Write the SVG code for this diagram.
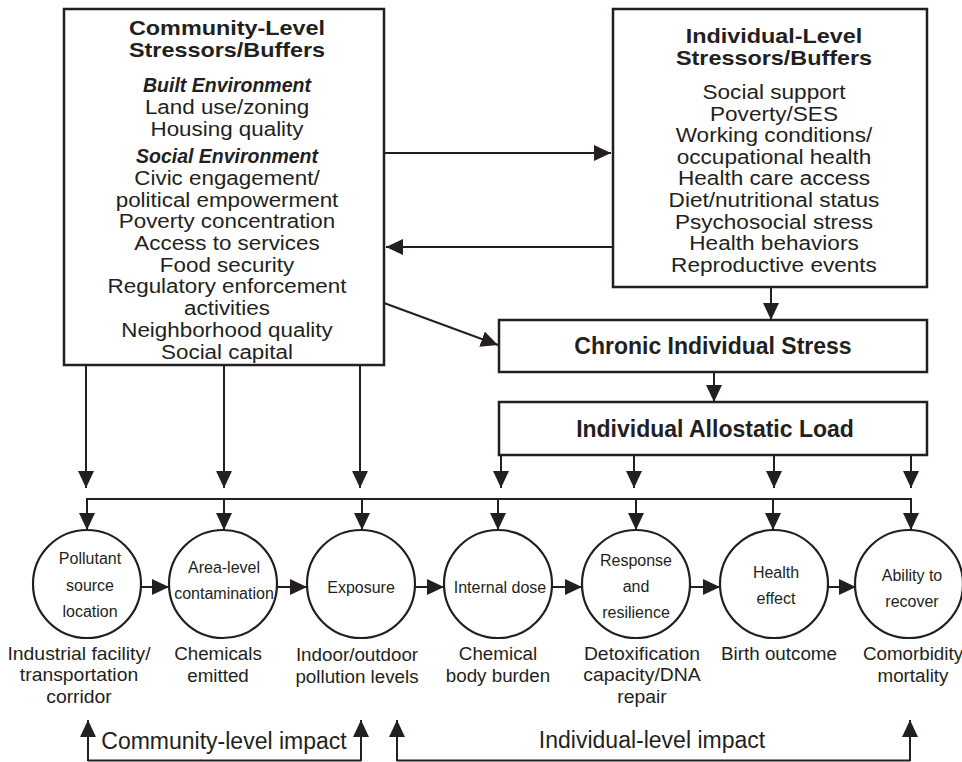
<svg xmlns="http://www.w3.org/2000/svg" width="962" height="762" viewBox="0 0 962 762">
<defs>
<marker id="ah" markerUnits="userSpaceOnUse" markerWidth="17" markerHeight="16" refX="17" refY="8" orient="auto">
<path d="M0,0 L17,8 L0,16 z" fill="#231f20"/>
</marker>
<style>
text{font-family:"Liberation Sans",Arial,sans-serif;fill:#231f20;text-anchor:middle}
.t{font-size:19.5px;font-weight:bold}
.tc{font-size:23px;font-weight:bold}
.b{font-size:19.3px}
.bi{font-size:19.5px;font-weight:bold;font-style:italic}
.c{font-size:16px}
.l{font-size:18.8px}
.i{font-size:23px}
.box{fill:#fff;stroke:#231f20;stroke-width:2.5}
.circ{fill:#fff;stroke:#231f20;stroke-width:2.2}
.ln{fill:none;stroke:#231f20;stroke-width:2}
.ar{fill:none;stroke:#231f20;stroke-width:2;marker-end:url(#ah)}
</style>
</defs>
<rect width="962" height="762" fill="#fff"/>

<g id="connectors">
<line class="ar" x1="384" y1="153" x2="611" y2="153"/>
<line class="ar" x1="612" y1="247" x2="386" y2="247"/>
<line class="ar" x1="384" y1="303" x2="498" y2="345"/>
<line class="ar" x1="771" y1="287" x2="771" y2="320"/>
<line class="ar" x1="714" y1="372" x2="714" y2="402"/>
<line class="ar" x1="86" y1="365" x2="86" y2="488"/>
<line class="ar" x1="224" y1="365" x2="224" y2="488"/>
<line class="ar" x1="360" y1="365" x2="360" y2="488"/>
<line class="ar" x1="501" y1="455" x2="501" y2="488"/>
<line class="ar" x1="634" y1="455" x2="634" y2="488"/>
<line class="ar" x1="774" y1="455" x2="774" y2="488"/>
<line class="ar" x1="911" y1="455" x2="911" y2="488"/>
<line class="ln" x1="86" y1="499" x2="912" y2="499"/>
<line class="ar" x1="87" y1="498" x2="87" y2="530"/>
<line class="ar" x1="224" y1="498" x2="224" y2="530"/>
<line class="ar" x1="362" y1="498" x2="362" y2="530"/>
<line class="ar" x1="498" y1="498" x2="498" y2="530"/>
<line class="ar" x1="636" y1="498" x2="636" y2="530"/>
<line class="ar" x1="773" y1="498" x2="773" y2="530"/>
<line class="ar" x1="911" y1="498" x2="911" y2="530"/>
<line class="ar" x1="141" y1="587" x2="169" y2="587"/>
<line class="ar" x1="277" y1="587" x2="307" y2="587"/>
<line class="ar" x1="416" y1="587" x2="444" y2="587"/>
<line class="ar" x1="552" y1="587" x2="582" y2="587"/>
<line class="ar" x1="690" y1="587" x2="720" y2="587"/>
<line class="ar" x1="828" y1="587" x2="856" y2="587"/>
<polyline class="ln" points="88,760.5 361,760.5"/>
<line class="ar" x1="88" y1="761" x2="88" y2="720"/>
<line class="ar" x1="361" y1="761" x2="361" y2="720"/>
<polyline class="ln" points="397,760.5 910,760.5"/>
<line class="ar" x1="397" y1="761" x2="397" y2="720"/>
<line class="ar" x1="910" y1="761" x2="910" y2="720"/>
</g>

<g id="community">
<rect class="box" x="64" y="9" width="320" height="356"/>
<g transform="translate(227,0) scale(1.2,1)">
<text class="t" x="0" y="35">Community-Level</text>
<text class="t" x="0" y="57">Stressors/Buffers</text>
</g>
<text class="bi" x="227" y="92">Built Environment</text>
<text class="bi" x="227" y="163">Social Environment</text>
<g transform="translate(227,0) scale(1.16,1)">
<text class="b" x="0" y="114.5">Land use/zoning</text>
<text class="b" x="0" y="136">Housing quality</text>
<text class="b" x="0" y="185">Civic engagement/</text>
<text class="b" x="0" y="206.7">political empowerment</text>
<text class="b" x="0" y="228.4">Poverty concentration</text>
<text class="b" x="0" y="250.1">Access to services</text>
<text class="b" x="0" y="271.8">Food security</text>
<text class="b" x="0" y="293.5">Regulatory enforcement</text>
<text class="b" x="0" y="315.2">activities</text>
<text class="b" x="0" y="336.9">Neighborhood quality</text>
<text class="b" x="0" y="358.6">Social capital</text>
</g>
</g>

<g id="individual">
<rect class="box" x="613" y="9" width="314" height="278"/>
<g transform="translate(774,0) scale(1.2,1)">
<text class="t" x="0" y="43">Individual-Level</text>
<text class="t" x="0" y="65">Stressors/Buffers</text>
</g>
<g transform="translate(774,0) scale(1.17,1)">
<text class="b" x="0" y="99">Social support</text>
<text class="b" x="0" y="120.6">Poverty/SES</text>
<text class="b" x="0" y="142.2">Working conditions/</text>
<text class="b" x="0" y="163.9">occupational health</text>
<text class="b" x="0" y="185.5">Health care access</text>
<text class="b" x="0" y="207.1">Diet/nutritional status</text>
<text class="b" x="0" y="228.8">Psychosocial stress</text>
<text class="b" x="0" y="250.4">Health behaviors</text>
<text class="b" x="0" y="272">Reproductive events</text>
</g>
</g>

<g id="chronic">
<rect class="box" x="499" y="320" width="428" height="52"/>
<text class="tc" x="713" y="354">Chronic Individual Stress</text>
</g>

<g id="allostatic">
<rect class="box" x="499" y="402" width="428" height="53"/>
<text class="tc" x="715" y="437">Individual Allostatic Load</text>
</g>

<g id="n1">
<circle class="circ" cx="87" cy="584" r="54"/>
<text class="c" x="90" y="564">Pollutant</text>
<text class="c" x="90" y="591">source</text>
<text class="c" x="90" y="617">location</text>
<g transform="translate(79,0) scale(1.03,1)">
<text class="l" x="0" y="660">Industrial facility/</text>
<text class="l" x="0" y="681.5">transportation</text>
<text class="l" x="0" y="703">corridor</text>
</g>
</g>

<g id="n2">
<circle class="circ" cx="223" cy="584" r="54"/>
<text class="c" x="224" y="573">Area-level</text>
<text class="c" x="224" y="599">contamination</text>
<text class="l" x="218" y="660">Chemicals</text>
<text class="l" x="218" y="682">emitted</text>
</g>

<g id="n3">
<circle class="circ" cx="361" cy="584" r="54"/>
<text class="c" x="361" y="593">Exposure</text>
<text class="l" x="357" y="661">Indoor/outdoor</text>
<text class="l" x="357" y="683">pollution levels</text>
</g>

<g id="n4">
<circle class="circ" cx="498" cy="584" r="54"/>
<text class="c" x="500" y="593">Internal dose</text>
<text class="l" x="498" y="660">Chemical</text>
<text class="l" x="498" y="682">body burden</text>
</g>

<g id="n5">
<circle class="circ" cx="636" cy="584" r="54"/>
<text class="c" x="636" y="566">Response</text>
<text class="c" x="636" y="592">and</text>
<text class="c" x="636" y="618">resilience</text>
<g transform="translate(642,0) scale(1.03,1)">
<text class="l" x="0" y="660">Detoxification</text>
<text class="l" x="0" y="681.5">capacity/DNA</text>
<text class="l" x="0" y="703">repair</text>
</g>
</g>

<g id="n6">
<circle class="circ" cx="774" cy="584" r="54"/>
<text class="c" x="776" y="578">Health</text>
<text class="c" x="776" y="604">effect</text>
<text class="l" x="779" y="660">Birth outcome</text>
</g>

<g id="n7">
<circle class="circ" cx="909" cy="584" r="54"/>
<text class="c" x="912" y="581">Ability to</text>
<text class="c" x="912" y="607">recover</text>
<text class="l" x="913" y="660">Comorbidity</text>
<text class="l" x="913" y="681.5">mortality</text>
</g>

<g id="impact-labels">
<text class="i" x="224" y="749">Community-level impact</text>
<text class="i" x="652" y="748">Individual-level impact</text>
</g>
</svg>
